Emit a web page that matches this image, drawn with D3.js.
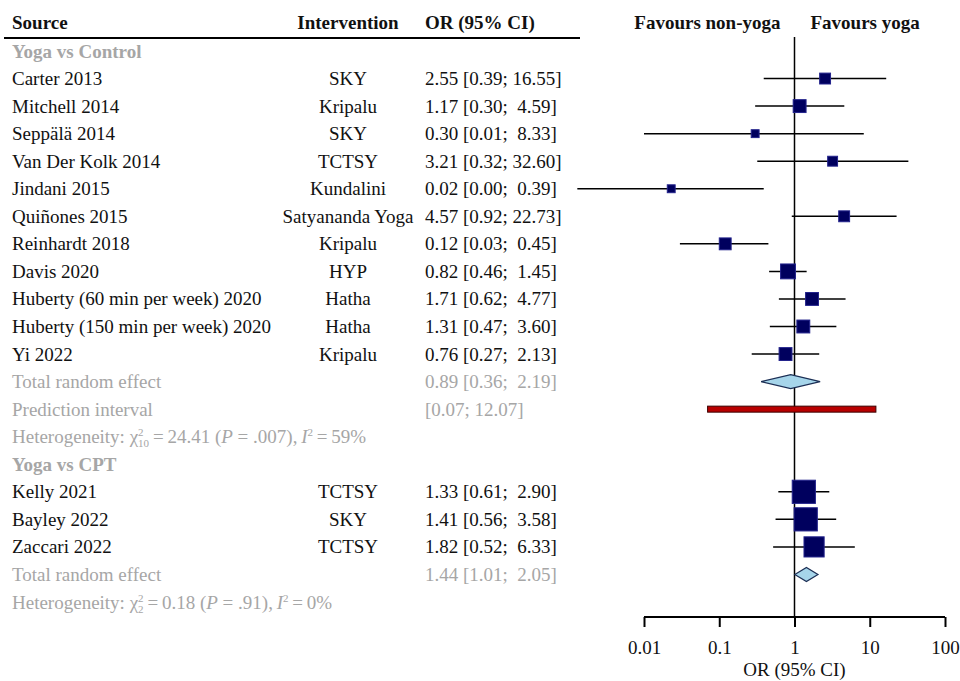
<!DOCTYPE html>
<html>
<head>
<meta charset="utf-8">
<script src="https://cdn.jsdelivr.net/npm/d3@7"></script>
<style>
  body { margin: 0; background: #fff; }
  svg text { font-family: "Liberation Serif", "Times New Roman", serif; white-space: pre; }
</style>
</head>
<body>
<svg id="chart"></svg>
<script>
// data
var groupNames = ["Yoga vs Control", "Yoga vs CPT"];
var studyNames = ["Carter 2013", "Mitchell 2014", "Seppälä 2014", "Van Der Kolk 2014", "Jindani 2015",
  "Quiñones 2015", "Reinhardt 2018", "Davis 2020", "Huberty (60 min per week) 2020",
  "Huberty (150 min per week) 2020", "Yi 2022", "Kelly 2021", "Bayley 2022", "Zaccari 2022"];
var studyGroup = [0, 0, 0, 0, 0, 0, 0, 0, 0, 0, 0, 1, 1, 1];
var interventions = ["SKY", "Kripalu", "SKY", "TCTSY", "Kundalini", "Satyananda Yoga", "Kripalu",
  "HYP", "Hatha", "Hatha", "Kripalu", "TCTSY", "SKY", "TCTSY"];
var orEst   = [2.55, 1.17, 0.30, 3.21, 0.023, 4.57, 0.12, 0.82, 1.71, 1.31, 0.76, 1.33, 1.41, 1.82];
var ciLower = [0.39, 0.30, 0.01, 0.32, 0.0013, 0.92, 0.03, 0.46, 0.62, 0.47, 0.27, 0.61, 0.56, 0.52];
var ciUpper = [16.55, 4.59, 8.33, 32.60, 0.39, 22.73, 0.45, 1.45, 4.77, 3.60, 2.13, 2.90, 3.58, 6.33];
var weights = [8.0, 11.2, 4.2, 6.6, 4.2, 8.0, 9.5, 14.9, 11.2, 11.2, 11.2, 36.3, 36.3, 27.4];

var pooledOR = [0.89, 1.44];
var pooledLower = [0.36, 1.01];
var pooledUpper = [2.19, 2.05];
var predLower = [0.07, null];
var predUpper = [12.07, null];
var hetChi = ["24.41", "0.18"];
var hetDf = ["10", "2"];
var hetP = [".007", ".91"];
var hetI2 = ["59%", "0%"];

var axisTicks = [0.01, 0.1, 1, 10, 100];
var axisTickLabels = ["0.01", "0.1", "1", "10", "100"];

var width = 960, height = 681;
var fontSize = 19;
var grey = "#a6a6a6";
var ink = "#111";

var svg = d3.select("#chart").attr("width", width).attr("height", height);

// build the list of table rows
var rows = [];
groupNames.forEach(function(g, gi) {
  rows.push({type: "group", g: gi});
  studyGroup.forEach(function(sg, i) {
    if (sg == gi) rows.push({type: "study", i: i});
  });
  rows.push({type: "total", g: gi});
  if (predLower[gi] != null) rows.push({type: "pred", g: gi});
  rows.push({type: "het", g: gi});
});

var y = d3.scalePoint().domain(d3.range(rows.length)).range([51, 602]);
var x = d3.scaleLog().domain([0.01, 100]).range([644, 945]);
var side = d3.scaleSqrt().domain([0, 100]).range([0, 38.5]);
var fmt = d3.format(".2f");

function ciText(o, lo, hi) {
  var s = "";
  if (o != null) s += fmt(o) + " ";
  return s + "[" + fmt(lo) + "; " + (hi < 10 ? " " : "") + fmt(hi) + "]";
}

var colSource = 12, colInterv = 348, colOR = 425;

// header
svg.append("text").attr("x", colSource).attr("y", 29).text("Source")
  .attr("font-size", fontSize + "px").attr("font-weight", "bold").style("fill", ink);
svg.append("text").attr("x", colInterv).attr("y", 29).text("Intervention")
  .attr("text-anchor", "middle").attr("font-size", fontSize + "px").attr("font-weight", "bold").style("fill", ink);
svg.append("text").attr("x", colOR).attr("y", 29).text("OR (95% CI)")
  .attr("font-size", fontSize + "px").attr("font-weight", "bold").style("fill", ink);
svg.append("line").attr("x1", 4).attr("x2", 580).attr("y1", 38).attr("y2", 38)
  .style("stroke", "#000").style("stroke-width", 2);

svg.append("text").attr("x", x(1) - 14).attr("y", 29).text("Favours non-yoga")
  .attr("text-anchor", "end").attr("font-size", fontSize + "px").attr("font-weight", "bold").style("fill", ink);
svg.append("text").attr("x", x(1) + 16).attr("y", 29).text("Favours yoga")
  .attr("font-size", fontSize + "px").attr("font-weight", "bold").style("fill", ink);

// reference line at OR = 1
svg.append("line").attr("x1", x(1)).attr("x2", x(1)).attr("y1", 37).attr("y2", 617)
  .style("stroke", "#000").style("stroke-width", 1.5);

rows.forEach(function(r, ri) {
  var cy = y(ri), by = cy + 6.5;
  if (r.type == "group") {
    svg.append("text").attr("x", colSource).attr("y", by).text(groupNames[r.g])
      .attr("font-size", fontSize + "px").attr("font-weight", "bold").style("fill", grey);
  } else if (r.type == "study") {
    var i = r.i;
    svg.append("text").attr("x", colSource).attr("y", by).text(studyNames[i])
      .attr("font-size", fontSize + "px").style("fill", ink);
    svg.append("text").attr("x", colInterv).attr("y", by).text(interventions[i])
      .attr("text-anchor", "middle").attr("font-size", fontSize + "px").style("fill", ink);
    svg.append("text").attr("x", colOR).attr("y", by).text(ciText(orEst[i], ciLower[i], ciUpper[i]))
      .attr("font-size", fontSize + "px").style("fill", ink);
    svg.append("line").attr("x1", x(ciLower[i])).attr("x2", x(ciUpper[i]))
      .attr("y1", cy).attr("y2", cy).style("stroke", "#000").style("stroke-width", 1.5);
    var s = side(weights[i]);
    svg.append("rect").attr("x", x(orEst[i]) - s / 2).attr("y", cy - s / 2)
      .attr("width", s).attr("height", s)
      .attr("fill", "#00005e").style("stroke", "#23238c").style("stroke-width", 1);
  } else if (r.type == "total") {
    var g = r.g;
    svg.append("text").attr("x", colSource).attr("y", by).text("Total random effect")
      .attr("font-size", fontSize + "px").style("fill", grey);
    svg.append("text").attr("x", colOR).attr("y", by).text(ciText(pooledOR[g], pooledLower[g], pooledUpper[g]))
      .attr("font-size", fontSize + "px").style("fill", grey);
    var h = 7;
    svg.append("path")
      .attr("d", "M" + x(pooledLower[g]) + "," + cy + "L" + x(pooledOR[g]) + "," + (cy - h) +
        "L" + x(pooledUpper[g]) + "," + cy + "L" + x(pooledOR[g]) + "," + (cy + h) + "Z")
      .attr("fill", "#a6d5ea").style("stroke", "#1c2f55").style("stroke-width", 1.2);
  } else if (r.type == "pred") {
    var g2 = r.g;
    svg.append("text").attr("x", colSource).attr("y", by).text("Prediction interval")
      .attr("font-size", fontSize + "px").style("fill", grey);
    svg.append("text").attr("x", colOR).attr("y", by).text(ciText(null, predLower[g2], predUpper[g2]))
      .attr("font-size", fontSize + "px").style("fill", grey);
    svg.append("rect").attr("x", x(predLower[g2])).attr("y", cy - 3)
      .attr("width", x(predUpper[g2]) - x(predLower[g2])).attr("height", 6)
      .attr("fill", "#b80000").style("stroke", "#3a0000").style("stroke-width", 1);
  } else if (r.type == "het") {
    var g3 = r.g;
    var t = svg.append("text").attr("x", colSource).attr("y", by)
      .attr("font-size", fontSize + "px").style("fill", grey);
    t.append("tspan").text("Heterogeneity: χ");
    t.append("tspan").attr("dy", -7).attr("font-size", "11px").text("2");
    t.append("tspan").attr("dx", -5.5).attr("dy", 11).attr("font-size", "11px").text(hetDf[g3]);
    t.append("tspan").attr("dy", -4).text("\u2009=\u2009" + hetChi[g3] + " (");
    t.append("tspan").attr("font-style", "italic").text("P");
    t.append("tspan").text(" = " + hetP[g3] + "),\u2009");
    t.append("tspan").attr("font-style", "italic").text("I");
    t.append("tspan").attr("dy", -7).attr("font-size", "11px").text("2");
    t.append("tspan").attr("dy", 7).text("\u2009=\u2009" + hetI2[g3]);
  }
});

// x axis
var axis = d3.axisBottom(x).tickValues(axisTicks)
  .tickFormat(function(d, i) { return axisTickLabels[i]; })
  .tickSize(10).tickPadding(14);
var gx = svg.append("g").attr("transform", "translate(0,617)").call(axis);
gx.select(".domain").attr("d", "M" + x(0.01) + ",0H" + x(100)).style("stroke-width", 2);
gx.selectAll(".tick line").style("stroke-width", 2);
gx.selectAll(".tick text").attr("font-size", fontSize + "px")
  .style("font-family", "'Liberation Serif', serif").style("fill", ink);

svg.append("text").attr("x", x(1)).attr("y", 676).text("OR (95% CI)")
  .attr("text-anchor", "middle").attr("font-size", fontSize + "px").style("fill", ink);
</script>
</body>
</html>
